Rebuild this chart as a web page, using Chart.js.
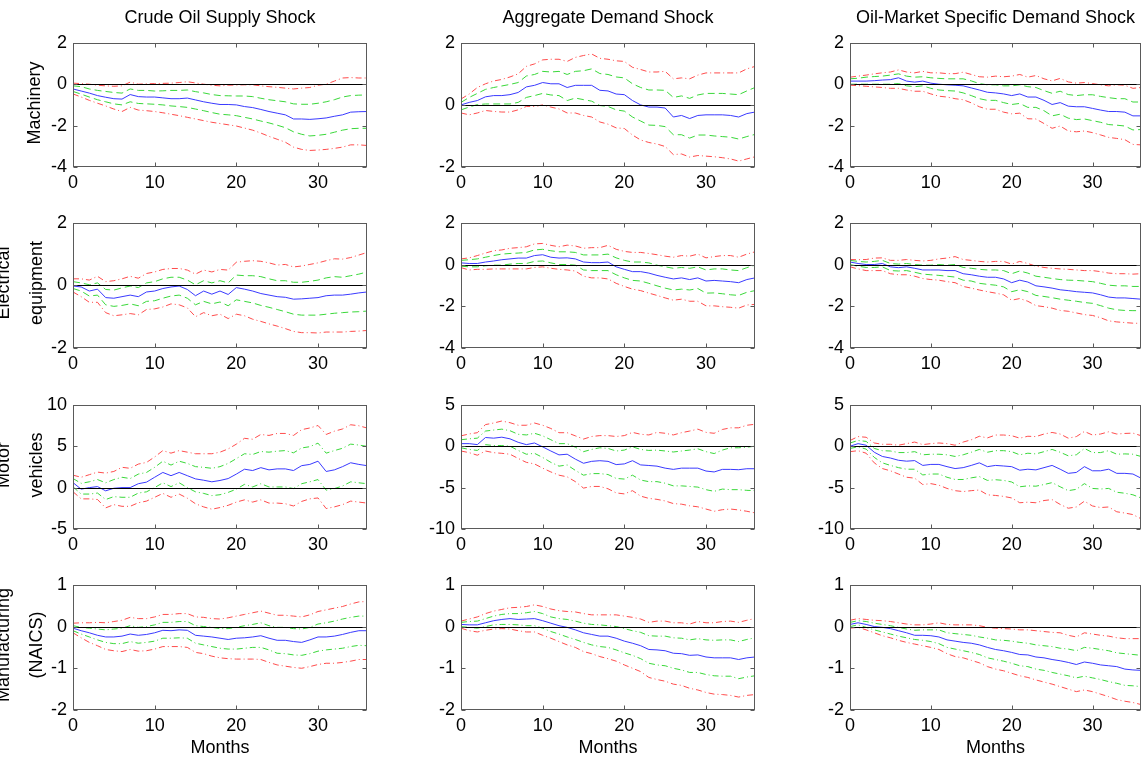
<!DOCTYPE html>
<html>
<head>
<meta charset="utf-8">
<title>Impulse responses of industrial production</title>
<script src="https://cdn.jsdelivr.net/npm/chart.js@4.4.1/dist/chart.umd.min.js"></script>
<style>
  html, body { margin: 0; padding: 0; background: #fff; }
  body { width: 1142px; height: 764px; position: relative; overflow: hidden;
         font-family: "Liberation Sans", Arial, sans-serif; color: #000; }
  canvas { position: absolute; }
  .col-title { position: absolute; top: 6px; font-size: 18px; line-height: 22px;
               white-space: nowrap; transform: translateX(-50%); }
  .row-label { position: absolute; font-size: 18px; line-height: 20px; text-align: center;
               white-space: nowrap; transform: translate(-50%, -50%) rotate(-90deg); }
  .row-label.two { line-height: 33px; }
  .x-title { position: absolute; top: 736px; font-size: 18px; line-height: 22px;
             white-space: nowrap; transform: translateX(-50%); }
</style>
</head>
<body>
<script>
// horizon in months and axis ticks
const months = [0,1,2,3,4,5,6,7,8,9,10,11,12,13,14,15,16,17,18,19,20,21,22,23,24,25,26,27,28,29,30,31,32,33,34,35,36];
const xTickVals = [0, 10, 20, 30];
const ticks4to2 = [-4, -2, 0, 2];
const ticks2to2 = [-2, 0, 2];
const ticks5to10 = [-5, 0, 5, 10];
const ticks10to5 = [-10, -5, 0, 5];
const ticks2to1 = [-2, -1, 0, 1];

const shockNames = ['Crude Oil Supply Shock', 'Aggregate Demand Shock', 'Oil-Market Specific Demand Shock'];
const industryNames = [['Machinery'], ['Electrical', 'equipment'], ['Motor', 'vehicles'], ['Manufacturing', '(NAICS)']];

// --- Machinery ---
const mach_sup_irf = [-0.23,-0.33,-0.43,-0.55,-0.63,-0.70,-0.72,-0.50,-0.60,-0.62,-0.62,-0.66,-0.70,-0.70,-0.67,-0.76,-0.85,-0.92,-0.98,-0.98,-1.00,-1.08,-1.13,-1.22,-1.32,-1.40,-1.48,-1.68,-1.68,-1.70,-1.67,-1.63,-1.55,-1.48,-1.35,-1.33,-1.32];
const mach_sup_hi1 = [-0.08,-0.12,-0.23,-0.30,-0.35,-0.40,-0.43,-0.23,-0.30,-0.30,-0.33,-0.32,-0.30,-0.30,-0.28,-0.36,-0.42,-0.50,-0.55,-0.56,-0.57,-0.57,-0.60,-0.68,-0.75,-0.80,-0.85,-0.95,-0.97,-0.97,-0.92,-0.85,-0.75,-0.62,-0.55,-0.53,-0.52];
const mach_sup_lo1 = [-0.35,-0.48,-0.62,-0.75,-0.85,-0.95,-1.00,-0.85,-0.93,-0.95,-0.97,-1.00,-1.05,-1.08,-1.12,-1.20,-1.28,-1.37,-1.45,-1.48,-1.52,-1.60,-1.68,-1.78,-1.87,-1.98,-2.10,-2.30,-2.42,-2.50,-2.47,-2.42,-2.32,-2.22,-2.15,-2.13,-2.13];
const mach_sup_hi2 = [0.05,0.03,0.00,-0.05,-0.08,-0.10,-0.08,0.10,0.00,0.02,0.03,0.04,0.05,0.08,0.12,0.06,0.00,-0.05,-0.08,-0.05,-0.04,-0.03,-0.03,-0.08,-0.12,-0.15,-0.19,-0.23,-0.19,-0.16,-0.05,0.00,0.15,0.30,0.32,0.30,0.30];
const mach_sup_lo2 = [-0.47,-0.62,-0.78,-0.92,-1.05,-1.20,-1.32,-1.12,-1.25,-1.28,-1.32,-1.38,-1.45,-1.52,-1.60,-1.68,-1.76,-1.84,-1.90,-1.96,-2.02,-2.12,-2.22,-2.36,-2.52,-2.66,-2.80,-3.04,-3.15,-3.20,-3.18,-3.15,-3.10,-3.04,-2.93,-2.93,-2.96];

const mach_agg_irf = [0.00,0.08,0.14,0.26,0.30,0.30,0.33,0.40,0.58,0.63,0.72,0.68,0.68,0.56,0.63,0.63,0.63,0.47,0.45,0.35,0.33,0.14,0.00,-0.07,-0.07,-0.10,-0.39,-0.34,-0.44,-0.34,-0.32,-0.32,-0.32,-0.34,-0.39,-0.28,-0.23];
const mach_agg_hi1 = [0.08,0.24,0.37,0.50,0.56,0.61,0.66,0.72,0.93,0.98,1.08,1.06,1.08,0.98,1.08,1.10,1.16,1.01,0.98,0.90,0.87,0.68,0.56,0.48,0.48,0.47,0.24,0.29,0.21,0.32,0.37,0.37,0.37,0.35,0.33,0.45,0.56];
const mach_agg_lo1 = [-0.16,-0.07,0.01,0.03,0.03,0.03,0.03,0.08,0.24,0.30,0.37,0.32,0.30,0.14,0.22,0.17,0.12,-0.02,-0.05,-0.16,-0.20,-0.39,-0.52,-0.65,-0.66,-0.70,-0.96,-0.96,-1.07,-0.97,-0.97,-1.00,-1.02,-1.04,-1.10,-1.02,-0.95];
const mach_agg_hi2 = [0.19,0.35,0.56,0.68,0.77,0.82,0.90,1.00,1.24,1.32,1.45,1.47,1.47,1.40,1.53,1.59,1.64,1.50,1.47,1.42,1.40,1.21,1.14,1.06,1.06,1.08,0.84,0.87,0.84,0.96,1.03,1.03,1.03,1.03,1.03,1.16,1.24];
const mach_agg_lo2 = [-0.26,-0.32,-0.26,-0.18,-0.21,-0.23,-0.23,-0.16,-0.05,-0.05,0.00,-0.07,-0.13,-0.26,-0.26,-0.34,-0.39,-0.55,-0.62,-0.74,-0.76,-0.97,-1.13,-1.21,-1.26,-1.34,-1.60,-1.58,-1.68,-1.63,-1.65,-1.67,-1.70,-1.74,-1.81,-1.74,-1.67];

const mach_spec_irf = [0.15,0.15,0.15,0.17,0.20,0.22,0.31,0.15,0.10,0.15,0.05,0.00,-0.03,-0.05,-0.08,-0.18,-0.28,-0.39,-0.42,-0.47,-0.55,-0.47,-0.62,-0.62,-0.78,-0.98,-0.89,-1.06,-1.09,-1.09,-1.17,-1.25,-1.32,-1.32,-1.35,-1.53,-1.53];
const mach_spec_hi1 = [0.26,0.29,0.34,0.37,0.39,0.44,0.50,0.39,0.34,0.36,0.31,0.28,0.26,0.26,0.26,0.16,0.03,-0.03,-0.03,-0.08,-0.08,-0.03,-0.12,-0.16,-0.31,-0.44,-0.34,-0.50,-0.55,-0.51,-0.51,-0.59,-0.65,-0.70,-0.70,-0.86,-0.86];
const mach_spec_lo1 = [0.00,0.00,0.00,0.00,0.00,0.00,0.03,-0.08,-0.12,-0.08,-0.20,-0.28,-0.31,-0.33,-0.42,-0.55,-0.70,-0.78,-0.78,-0.89,-0.98,-0.93,-1.12,-1.12,-1.28,-1.53,-1.45,-1.64,-1.71,-1.68,-1.76,-1.84,-1.95,-1.98,-2.02,-2.21,-2.19];
const mach_spec_hi2 = [0.34,0.39,0.44,0.50,0.55,0.59,0.69,0.59,0.55,0.62,0.55,0.55,0.51,0.51,0.58,0.47,0.36,0.34,0.39,0.36,0.39,0.47,0.34,0.42,0.26,0.16,0.28,0.11,0.05,0.08,0.03,-0.03,-0.08,-0.03,-0.05,-0.20,-0.16];
const mach_spec_lo2 = [-0.05,-0.07,-0.10,-0.13,-0.16,-0.20,-0.20,-0.28,-0.34,-0.34,-0.47,-0.58,-0.62,-0.70,-0.75,-0.90,-1.09,-1.21,-1.21,-1.35,-1.43,-1.40,-1.67,-1.68,-1.90,-2.13,-2.02,-2.26,-2.30,-2.26,-2.34,-2.45,-2.57,-2.62,-2.68,-2.91,-2.93];

// --- Electrical equipment ---
const elec_sup_irf = [-0.02,-0.05,-0.18,-0.12,-0.39,-0.41,-0.36,-0.31,-0.36,-0.21,-0.18,-0.10,-0.05,-0.02,-0.13,-0.33,-0.18,-0.28,-0.18,-0.29,-0.07,-0.12,-0.18,-0.26,-0.31,-0.36,-0.38,-0.44,-0.43,-0.41,-0.39,-0.33,-0.31,-0.31,-0.28,-0.24,-0.21];
const elec_sup_hi1 = [0.12,0.08,0.02,0.08,-0.13,-0.15,-0.08,-0.02,-0.07,0.08,0.12,0.21,0.26,0.26,0.17,0.02,0.15,0.08,0.15,0.08,0.33,0.31,0.31,0.28,0.21,0.15,0.15,0.10,0.10,0.13,0.17,0.24,0.28,0.26,0.31,0.36,0.43];
const elec_sup_lo1 = [-0.10,-0.18,-0.34,-0.31,-0.62,-0.67,-0.64,-0.59,-0.65,-0.51,-0.49,-0.41,-0.34,-0.31,-0.41,-0.62,-0.51,-0.59,-0.53,-0.65,-0.46,-0.51,-0.56,-0.64,-0.70,-0.77,-0.84,-0.92,-0.95,-0.95,-0.95,-0.92,-0.89,-0.87,-0.85,-0.84,-0.82];
const elec_sup_hi2 = [0.21,0.21,0.17,0.29,0.12,0.15,0.21,0.29,0.23,0.38,0.43,0.51,0.54,0.54,0.49,0.36,0.49,0.43,0.51,0.49,0.74,0.77,0.79,0.77,0.72,0.65,0.67,0.59,0.62,0.67,0.72,0.79,0.85,0.84,0.89,0.97,1.05];
const elec_sup_lo2 = [-0.21,-0.36,-0.54,-0.54,-0.87,-0.97,-0.94,-0.90,-0.94,-0.77,-0.75,-0.69,-0.59,-0.62,-0.72,-1.00,-0.87,-0.97,-0.92,-1.06,-0.92,-0.97,-1.08,-1.15,-1.23,-1.30,-1.38,-1.47,-1.51,-1.51,-1.52,-1.49,-1.49,-1.49,-1.47,-1.46,-1.44];

const elec_agg_irf = [0.08,0.05,0.05,0.12,0.17,0.23,0.27,0.31,0.31,0.43,0.47,0.35,0.31,0.32,0.27,0.12,0.09,0.09,0.12,-0.11,-0.23,-0.34,-0.34,-0.41,-0.52,-0.61,-0.69,-0.64,-0.72,-0.64,-0.79,-0.76,-0.79,-0.82,-0.87,-0.72,-0.64];
const elec_agg_hi1 = [0.20,0.23,0.27,0.35,0.43,0.50,0.53,0.55,0.58,0.70,0.73,0.66,0.61,0.61,0.58,0.46,0.46,0.46,0.50,0.32,0.20,0.12,0.12,0.08,-0.03,-0.11,-0.18,-0.14,-0.18,-0.11,-0.26,-0.21,-0.21,-0.26,-0.29,-0.15,-0.03];
const elec_agg_lo1 = [-0.08,-0.11,-0.11,-0.06,-0.03,-0.03,0.02,0.05,0.05,0.15,0.17,0.08,0.00,0.00,-0.03,-0.26,-0.29,-0.29,-0.29,-0.49,-0.64,-0.76,-0.79,-0.90,-1.02,-1.13,-1.22,-1.18,-1.22,-1.15,-1.37,-1.36,-1.40,-1.45,-1.48,-1.33,-1.25];
const elec_agg_hi2 = [0.27,0.32,0.43,0.55,0.66,0.70,0.78,0.81,0.85,0.99,1.01,0.92,0.85,0.93,0.89,0.78,0.81,0.81,0.92,0.73,0.63,0.58,0.58,0.53,0.47,0.40,0.35,0.43,0.40,0.50,0.32,0.38,0.43,0.43,0.35,0.50,0.61];
const elec_agg_lo2 = [-0.15,-0.26,-0.23,-0.23,-0.21,-0.21,-0.21,-0.21,-0.21,-0.14,-0.11,-0.18,-0.23,-0.26,-0.31,-0.56,-0.64,-0.64,-0.69,-0.90,-1.05,-1.18,-1.25,-1.37,-1.48,-1.60,-1.71,-1.66,-1.76,-1.76,-1.98,-1.98,-2.02,-2.05,-2.09,-1.94,-1.91];

const elec_spec_irf = [0.12,0.05,0.00,0.00,0.05,-0.11,-0.15,-0.11,-0.18,-0.26,-0.26,-0.26,-0.29,-0.29,-0.44,-0.49,-0.56,-0.61,-0.61,-0.69,-0.87,-0.75,-0.84,-1.02,-1.07,-1.13,-1.21,-1.25,-1.30,-1.33,-1.36,-1.45,-1.56,-1.60,-1.60,-1.63,-1.66];
const elec_spec_hi1 = [0.20,0.15,0.12,0.15,0.20,0.05,0.02,0.05,0.00,-0.03,-0.03,0.00,-0.03,0.00,-0.14,-0.18,-0.23,-0.26,-0.26,-0.29,-0.44,-0.31,-0.41,-0.56,-0.61,-0.67,-0.72,-0.75,-0.76,-0.79,-0.82,-0.90,-0.99,-1.02,-1.02,-1.05,-1.05];
const elec_spec_lo1 = [0.00,-0.08,-0.14,-0.14,-0.11,-0.29,-0.31,-0.29,-0.37,-0.46,-0.49,-0.52,-0.56,-0.60,-0.75,-0.79,-0.90,-0.95,-0.99,-1.07,-1.30,-1.21,-1.30,-1.48,-1.53,-1.59,-1.66,-1.71,-1.76,-1.82,-1.86,-1.97,-2.09,-2.17,-2.20,-2.21,-2.21];
const elec_spec_hi2 = [0.24,0.23,0.24,0.31,0.32,0.20,0.20,0.24,0.20,0.17,0.20,0.27,0.31,0.38,0.24,0.20,0.15,0.12,0.15,0.15,0.02,0.15,0.05,-0.08,-0.14,-0.18,-0.21,-0.23,-0.26,-0.29,-0.29,-0.34,-0.41,-0.44,-0.44,-0.46,-0.44];
const elec_spec_lo2 = [-0.11,-0.21,-0.29,-0.29,-0.29,-0.44,-0.49,-0.49,-0.56,-0.67,-0.72,-0.75,-0.82,-0.87,-1.05,-1.13,-1.22,-1.30,-1.37,-1.45,-1.71,-1.63,-1.76,-1.97,-2.02,-2.09,-2.20,-2.24,-2.32,-2.40,-2.44,-2.55,-2.70,-2.75,-2.78,-2.81,-2.82];

// --- Motor vehicles ---
const motor_sup_irf = [0.60,-0.19,0.00,0.12,-0.39,-0.08,0.00,0.00,0.47,0.66,1.25,1.83,1.44,1.83,1.44,1.05,0.89,0.70,0.86,1.09,1.63,2.22,2.06,2.41,2.14,2.26,2.26,2.06,2.65,2.80,3.19,1.95,2.14,2.53,3.00,2.80,2.65];
const motor_sup_hi1 = [1.10,0.51,0.70,0.97,0.58,0.97,1.25,1.09,1.63,1.83,2.45,3.19,2.72,3.19,2.92,2.53,2.45,2.33,2.53,2.92,3.50,4.09,4.00,4.36,4.28,4.40,4.47,4.20,4.79,4.94,5.37,4.16,4.47,4.75,5.25,5.14,4.98];
const motor_sup_lo1 = [0.10,-0.78,-0.78,-0.66,-1.44,-1.09,-1.17,-1.17,-0.66,-0.51,0.00,0.58,0.12,0.58,0.00,-0.51,-0.70,-0.97,-0.86,-0.58,-0.19,0.39,0.08,0.47,0.08,0.08,0.08,-0.12,0.47,0.70,0.97,-0.31,-0.12,0.19,0.70,0.58,0.47];
const motor_sup_hi2 = [1.50,1.25,1.56,1.87,1.75,1.95,2.45,2.33,2.84,3.04,3.70,4.47,4.16,4.47,4.28,4.09,4.09,4.09,4.28,4.67,5.25,5.95,5.84,6.42,6.30,6.54,6.54,6.30,7.00,7.20,7.50,6.42,6.81,7.08,7.59,7.47,7.20];
const motor_sup_lo2 = [-0.50,-1.36,-1.36,-1.44,-2.45,-2.06,-2.26,-2.26,-1.83,-1.63,-1.17,-0.70,-1.17,-0.78,-1.28,-1.95,-2.33,-2.61,-2.41,-2.14,-1.75,-1.48,-1.75,-1.48,-1.87,-1.87,-1.95,-2.22,-1.67,-1.36,-1.25,-2.53,-2.33,-2.06,-1.63,-1.75,-1.87];

const motor_agg_irf = [0.31,0.31,0.19,1.05,0.97,1.09,0.89,0.47,0.19,0.39,-0.08,-0.58,-1.05,-0.97,-1.56,-2.06,-1.83,-1.75,-1.83,-2.22,-2.14,-1.75,-2.26,-2.33,-2.41,-2.65,-2.80,-2.65,-2.65,-2.65,-3.00,-3.11,-2.80,-2.80,-2.84,-2.72,-2.72];
const motor_agg_hi1 = [0.78,0.89,0.97,1.83,1.95,2.06,1.87,1.44,1.36,1.56,1.25,0.78,0.31,0.31,-0.12,-0.66,-0.39,-0.19,-0.27,-0.58,-0.47,-0.08,-0.39,-0.51,-0.47,-0.58,-0.70,-0.58,-0.47,-0.31,-0.66,-0.89,-0.47,-0.19,-0.19,-0.12,0.00];
const motor_agg_lo1 = [-0.19,-0.39,-0.51,0.19,0.08,0.08,0.00,-0.51,-0.97,-0.86,-1.36,-1.95,-2.41,-2.26,-2.92,-3.50,-3.31,-3.31,-3.42,-3.89,-3.97,-3.50,-4.09,-4.28,-4.28,-4.47,-4.79,-4.79,-4.86,-4.94,-5.25,-5.45,-5.18,-5.25,-5.25,-5.33,-5.37];
const motor_agg_hi2 = [1.25,1.48,1.63,2.61,2.80,3.04,2.84,2.53,2.53,2.80,2.53,2.14,1.63,1.63,1.25,0.86,1.17,1.28,1.28,1.17,1.28,1.67,1.44,1.36,1.67,1.56,1.36,1.63,1.83,2.06,1.67,1.56,2.02,2.22,2.22,2.53,2.65];
const motor_agg_lo2 = [-0.58,-0.78,-1.09,-0.58,-0.78,-0.86,-0.97,-1.48,-1.95,-2.14,-2.65,-3.11,-3.50,-3.70,-4.28,-5.06,-4.86,-4.86,-5.14,-5.64,-5.76,-5.37,-6.03,-6.30,-6.42,-6.61,-6.93,-7.00,-7.20,-7.32,-7.59,-7.86,-7.67,-7.59,-7.70,-7.86,-8.05];

const motor_spec_irf = [0.00,0.31,0.12,-0.73,-1.24,-1.43,-1.70,-1.81,-1.74,-2.32,-2.20,-2.20,-2.47,-2.70,-2.59,-2.32,-2.01,-2.47,-2.32,-2.39,-2.47,-2.90,-2.78,-2.86,-2.59,-2.32,-2.78,-3.28,-3.17,-2.47,-2.97,-2.97,-2.78,-3.28,-3.28,-3.36,-3.86];
const motor_spec_hi1 = [0.39,0.69,0.58,-0.27,-0.54,-0.58,-0.77,-0.77,-0.66,-1.04,-0.97,-0.97,-1.04,-1.24,-1.04,-0.73,-0.39,-0.73,-0.54,-0.54,-0.66,-1.04,-0.85,-0.93,-0.66,-0.39,-0.73,-1.16,-1.04,-0.27,-0.77,-0.77,-0.54,-0.97,-0.93,-0.97,-1.24];
const motor_spec_lo1 = [-0.27,-0.08,-0.35,-1.35,-2.01,-2.32,-2.59,-2.78,-2.78,-3.47,-3.36,-3.36,-3.75,-4.02,-4.02,-3.82,-3.67,-4.13,-4.05,-4.13,-4.32,-4.90,-4.79,-4.83,-4.63,-4.40,-4.90,-5.37,-5.21,-4.52,-5.10,-5.17,-5.10,-5.56,-5.68,-5.87,-6.25];
const motor_spec_hi2 = [0.69,1.16,1.08,0.39,0.23,0.23,0.12,0.31,0.50,0.19,0.31,0.39,0.31,0.12,0.50,0.77,1.20,1.00,1.35,1.35,1.27,0.97,1.20,1.16,1.47,1.66,1.47,0.97,1.16,1.78,1.35,1.47,1.74,1.47,1.54,1.58,1.27];
const motor_spec_lo2 = [-0.66,-0.54,-0.85,-2.01,-2.70,-2.97,-3.36,-3.75,-3.86,-4.63,-4.52,-4.71,-5.10,-5.37,-5.48,-5.37,-5.29,-5.87,-5.95,-6.06,-6.25,-6.83,-6.76,-6.83,-6.56,-6.45,-7.03,-7.49,-7.34,-6.64,-7.22,-7.41,-7.34,-7.92,-8.07,-8.26,-8.76];

// --- Manufacturing (NAICS) ---
const manuf_sup_irf = [-0.04,-0.10,-0.15,-0.21,-0.25,-0.25,-0.23,-0.18,-0.21,-0.19,-0.15,-0.09,-0.10,-0.08,-0.09,-0.21,-0.23,-0.25,-0.28,-0.31,-0.28,-0.27,-0.25,-0.22,-0.28,-0.33,-0.33,-0.36,-0.38,-0.32,-0.25,-0.25,-0.23,-0.19,-0.14,-0.10,-0.10];
const manuf_sup_hi1 = [0.02,-0.02,-0.04,-0.06,-0.08,-0.06,-0.04,0.02,-0.02,0.00,0.04,0.10,0.10,0.12,0.12,0.02,0.00,-0.02,-0.05,-0.05,-0.02,0.02,0.05,0.09,0.02,-0.02,-0.02,-0.05,-0.06,-0.02,0.06,0.09,0.13,0.18,0.22,0.25,0.25];
const manuf_sup_lo1 = [-0.10,-0.18,-0.25,-0.32,-0.38,-0.41,-0.41,-0.36,-0.40,-0.38,-0.35,-0.28,-0.28,-0.27,-0.28,-0.40,-0.44,-0.48,-0.52,-0.54,-0.54,-0.52,-0.50,-0.50,-0.56,-0.64,-0.65,-0.68,-0.69,-0.65,-0.59,-0.56,-0.54,-0.52,-0.48,-0.45,-0.46];
const manuf_sup_hi2 = [0.08,0.09,0.09,0.10,0.09,0.12,0.15,0.22,0.19,0.19,0.23,0.29,0.29,0.31,0.31,0.23,0.22,0.19,0.18,0.21,0.25,0.29,0.33,0.37,0.32,0.27,0.27,0.25,0.23,0.28,0.36,0.40,0.44,0.48,0.54,0.59,0.60];
const manuf_sup_lo2 = [-0.15,-0.27,-0.38,-0.46,-0.55,-0.58,-0.60,-0.55,-0.59,-0.58,-0.54,-0.48,-0.48,-0.48,-0.50,-0.62,-0.65,-0.71,-0.75,-0.77,-0.78,-0.78,-0.78,-0.79,-0.86,-0.92,-0.95,-0.98,-1.00,-0.96,-0.91,-0.88,-0.88,-0.86,-0.83,-0.79,-0.79];

const manuf_agg_irf = [0.05,0.04,0.04,0.09,0.14,0.17,0.19,0.17,0.18,0.19,0.14,0.08,0.02,-0.02,-0.08,-0.15,-0.19,-0.23,-0.23,-0.28,-0.35,-0.40,-0.46,-0.55,-0.56,-0.58,-0.64,-0.65,-0.69,-0.68,-0.73,-0.75,-0.75,-0.75,-0.79,-0.75,-0.73];
const manuf_agg_hi1 = [0.10,0.12,0.13,0.19,0.25,0.29,0.31,0.31,0.33,0.36,0.31,0.23,0.19,0.17,0.13,0.08,0.05,0.04,0.02,0.00,-0.05,-0.10,-0.14,-0.22,-0.23,-0.23,-0.27,-0.28,-0.32,-0.29,-0.32,-0.33,-0.32,-0.32,-0.36,-0.31,-0.27];
const manuf_agg_lo1 = [0.00,-0.02,-0.04,0.00,0.04,0.05,0.05,0.04,0.02,0.02,-0.04,-0.12,-0.18,-0.25,-0.31,-0.38,-0.44,-0.48,-0.50,-0.56,-0.63,-0.69,-0.77,-0.88,-0.92,-0.94,-1.00,-1.04,-1.10,-1.10,-1.15,-1.18,-1.19,-1.19,-1.25,-1.21,-1.18];
const manuf_agg_hi2 = [0.13,0.18,0.23,0.31,0.37,0.41,0.45,0.46,0.48,0.52,0.48,0.42,0.38,0.36,0.35,0.31,0.28,0.28,0.28,0.28,0.25,0.22,0.18,0.10,0.13,0.13,0.09,0.09,0.06,0.12,0.09,0.09,0.12,0.13,0.10,0.15,0.19];
const manuf_agg_lo2 = [-0.04,-0.10,-0.13,-0.09,-0.06,-0.05,-0.06,-0.10,-0.13,-0.13,-0.21,-0.28,-0.36,-0.44,-0.50,-0.60,-0.65,-0.72,-0.77,-0.83,-0.92,-1.00,-1.08,-1.22,-1.27,-1.31,-1.38,-1.41,-1.48,-1.52,-1.58,-1.62,-1.63,-1.65,-1.69,-1.65,-1.63];

const manuf_spec_irf = [0.05,0.09,0.05,0.00,-0.02,-0.05,-0.10,-0.15,-0.21,-0.21,-0.22,-0.25,-0.32,-0.35,-0.38,-0.40,-0.44,-0.50,-0.55,-0.58,-0.62,-0.67,-0.68,-0.73,-0.75,-0.79,-0.82,-0.86,-0.91,-0.85,-0.88,-0.92,-0.94,-0.96,-1.02,-1.04,-1.05];
const manuf_spec_hi1 = [0.10,0.14,0.12,0.08,0.05,0.02,-0.02,-0.06,-0.09,-0.08,-0.08,-0.08,-0.15,-0.17,-0.19,-0.21,-0.25,-0.28,-0.32,-0.33,-0.35,-0.38,-0.40,-0.44,-0.46,-0.48,-0.52,-0.54,-0.58,-0.50,-0.52,-0.55,-0.58,-0.63,-0.65,-0.67,-0.69];
const manuf_spec_lo1 = [0.00,0.04,-0.02,-0.08,-0.13,-0.18,-0.23,-0.27,-0.31,-0.33,-0.36,-0.41,-0.50,-0.54,-0.58,-0.62,-0.67,-0.75,-0.79,-0.83,-0.88,-0.94,-0.96,-1.02,-1.05,-1.10,-1.14,-1.18,-1.23,-1.19,-1.23,-1.27,-1.32,-1.36,-1.41,-1.42,-1.44];
const manuf_spec_hi2 = [0.15,0.19,0.17,0.15,0.14,0.12,0.09,0.06,0.04,0.04,0.06,0.09,0.05,0.04,0.04,0.04,0.02,-0.02,-0.04,-0.05,-0.06,-0.08,-0.08,-0.10,-0.12,-0.14,-0.15,-0.21,-0.25,-0.15,-0.18,-0.21,-0.23,-0.27,-0.29,-0.29,-0.29];
const manuf_spec_lo2 = [-0.04,-0.02,-0.08,-0.15,-0.22,-0.27,-0.33,-0.38,-0.42,-0.46,-0.50,-0.55,-0.65,-0.72,-0.75,-0.81,-0.87,-0.96,-1.02,-1.06,-1.12,-1.18,-1.22,-1.28,-1.33,-1.38,-1.44,-1.50,-1.56,-1.52,-1.56,-1.62,-1.68,-1.75,-1.79,-1.82,-1.87];

// grid of panels: [row][col] -> y ticks and the five response lines
const panelGrid = [
  [
    { yTicks: ticks4to2, lines: [mach_sup_irf, mach_sup_hi1, mach_sup_lo1, mach_sup_hi2, mach_sup_lo2] },
    { yTicks: ticks2to2, lines: [mach_agg_irf, mach_agg_hi1, mach_agg_lo1, mach_agg_hi2, mach_agg_lo2] },
    { yTicks: ticks4to2, lines: [mach_spec_irf, mach_spec_hi1, mach_spec_lo1, mach_spec_hi2, mach_spec_lo2] }
  ],
  [
    { yTicks: ticks2to2, lines: [elec_sup_irf, elec_sup_hi1, elec_sup_lo1, elec_sup_hi2, elec_sup_lo2] },
    { yTicks: ticks4to2, lines: [elec_agg_irf, elec_agg_hi1, elec_agg_lo1, elec_agg_hi2, elec_agg_lo2] },
    { yTicks: ticks4to2, lines: [elec_spec_irf, elec_spec_hi1, elec_spec_lo1, elec_spec_hi2, elec_spec_lo2] }
  ],
  [
    { yTicks: ticks5to10, lines: [motor_sup_irf, motor_sup_hi1, motor_sup_lo1, motor_sup_hi2, motor_sup_lo2] },
    { yTicks: ticks10to5, lines: [motor_agg_irf, motor_agg_hi1, motor_agg_lo1, motor_agg_hi2, motor_agg_lo2] },
    { yTicks: ticks10to5, lines: [motor_spec_irf, motor_spec_hi1, motor_spec_lo1, motor_spec_hi2, motor_spec_lo2] }
  ],
  [
    { yTicks: ticks2to1, lines: [manuf_sup_irf, manuf_sup_hi1, manuf_sup_lo1, manuf_sup_hi2, manuf_sup_lo2] },
    { yTicks: ticks2to1, lines: [manuf_agg_irf, manuf_agg_hi1, manuf_agg_lo1, manuf_agg_hi2, manuf_agg_lo2] },
    { yTicks: ticks2to1, lines: [manuf_spec_irf, manuf_spec_hi1, manuf_spec_lo1, manuf_spec_hi2, manuf_spec_lo2] }
  ]
];

// page layout (plot boxes)
const colLeft = [73, 461, 850];
const colRight = [367, 755, 1141];
const rowTop = [38, 218, 400, 580];
const rowBottom = [167, 348, 529, 710];
const padL = 60, padT = 12, padR = 10, axisH = 40;

const FONT = '"Liberation Sans", Arial, sans-serif';
Chart.defaults.font.family = FONT;
Chart.defaults.font.size = 18;
Chart.defaults.color = '#000';

const BLUE = '#3a3aff';
const GREEN = '#3ad83a';
const RED = '#ff4d4d';
const DASH = [7, 4];
const DASHDOT = [6, 3, 1, 3];

// axes box, inward tick marks and the zero line
const axesBox = {
  id: 'axesBox',
  afterDatasetsDraw(chart) {
    const { ctx, chartArea: a, scales: { x, y } } = chart;
    const L = Math.round(a.left) + 0.5, R = Math.round(a.right) - 0.5;
    const T = Math.round(a.top) + 0.5, B = Math.round(a.bottom) - 0.5;
    ctx.save();
    const y0 = Math.round(y.getPixelForValue(0)) + 0.5;
    ctx.strokeStyle = '#000';
    ctx.lineWidth = 1;
    ctx.beginPath();
    ctx.moveTo(L, y0);
    ctx.lineTo(R, y0);
    ctx.stroke();

    ctx.strokeStyle = '#5a5a5a';
    ctx.strokeRect(L, T, R - L, B - T);
    ctx.beginPath();
    x.ticks.forEach(t => {
      const px = Math.round(x.getPixelForValue(t.value)) + 0.5;
      ctx.moveTo(px, B); ctx.lineTo(px, B - 4);
      ctx.moveTo(px, T); ctx.lineTo(px, T + 4);
    });
    y.ticks.forEach(t => {
      const py = Math.round(y.getPixelForValue(t.value)) + 0.5;
      ctx.moveTo(L, py); ctx.lineTo(L + 4, py);
      ctx.moveTo(R, py); ctx.lineTo(R - 4, py);
    });
    ctx.stroke();
    ctx.restore();
  }
};

function toPoints(arr) {
  return months.map((m, i) => ({ x: m, y: arr[i] }));
}

function addText(cls, text, left, top) {
  const d = document.createElement('div');
  d.className = cls;
  d.innerHTML = text;
  d.style.left = left + 'px';
  if (top !== null) d.style.top = top + 'px';
  document.body.appendChild(d);
  return d;
}

panelGrid.forEach((row, r) => {
  row.forEach((p, c) => {
    const w = colRight[c] - colLeft[c] + padL + padR;
    const h = rowBottom[r] - rowTop[r] + padT + axisH;
    const canvas = document.createElement('canvas');
    canvas.width = w;
    canvas.height = h;
    canvas.style.left = (colLeft[c] - padL) + 'px';
    canvas.style.top = (rowTop[r] - padT) + 'px';
    canvas.style.width = w + 'px';
    canvas.style.height = h + 'px';
    document.body.appendChild(canvas);

    const [irf, hi1, lo1, hi2, lo2] = p.lines;
    const greenDash = r < 2 ? DASH : DASHDOT;
    const yMin = p.yTicks[0], yMax = p.yTicks[p.yTicks.length - 1];

    new Chart(canvas, {
      type: 'line',
      data: {
        datasets: [
          { data: toPoints(hi2), borderColor: RED, borderDash: DASHDOT },
          { data: toPoints(lo2), borderColor: RED, borderDash: DASHDOT },
          { data: toPoints(hi1), borderColor: GREEN, borderDash: greenDash },
          { data: toPoints(lo1), borderColor: GREEN, borderDash: greenDash },
          { data: toPoints(irf), borderColor: BLUE }
        ].map(ds => Object.assign(ds, { borderWidth: 1, pointRadius: 0, tension: 0, fill: false }))
      },
      options: {
        responsive: false,
        animation: false,
        devicePixelRatio: 1,
        events: [],
        layout: { padding: { left: 0, top: padT, right: padR, bottom: 0 } },
        plugins: { legend: { display: false }, tooltip: { enabled: false } },
        scales: {
          x: {
            type: 'linear', min: 0, max: 36,
            grid: { display: false, drawTicks: false },
            border: { display: false },
            ticks: { padding: 5, maxRotation: 0, autoSkip: false },
            afterBuildTicks: s => { s.ticks = xTickVals.map(v => ({ value: v })); },
            afterFit: s => { s.height = axisH; }
          },
          y: {
            type: 'linear', min: yMin, max: yMax,
            grid: { display: false, drawTicks: false },
            border: { display: false },
            ticks: { padding: 6, autoSkip: false },
            afterBuildTicks: s => { s.ticks = p.yTicks.map(v => ({ value: v })); },
            afterFit: s => { s.width = padL; }
          }
        }
      },
      plugins: [axesBox]
    });
  });
});

// column titles, row labels and the month axis title
shockNames.forEach((name, c) => {
  addText('col-title', name, (colLeft[c] + colRight[c]) / 2, null);
  addText('x-title', 'Months', (colLeft[c] + colRight[c]) / 2, null);
});
industryNames.forEach((lines, r) => {
  const cy = (rowTop[r] + rowBottom[r]) / 2;
  const two = lines.length > 1;
  addText(two ? 'row-label two' : 'row-label', lines.join('<br>'), two ? 20 : 34, cy);
});
</script>
</body>
</html>
